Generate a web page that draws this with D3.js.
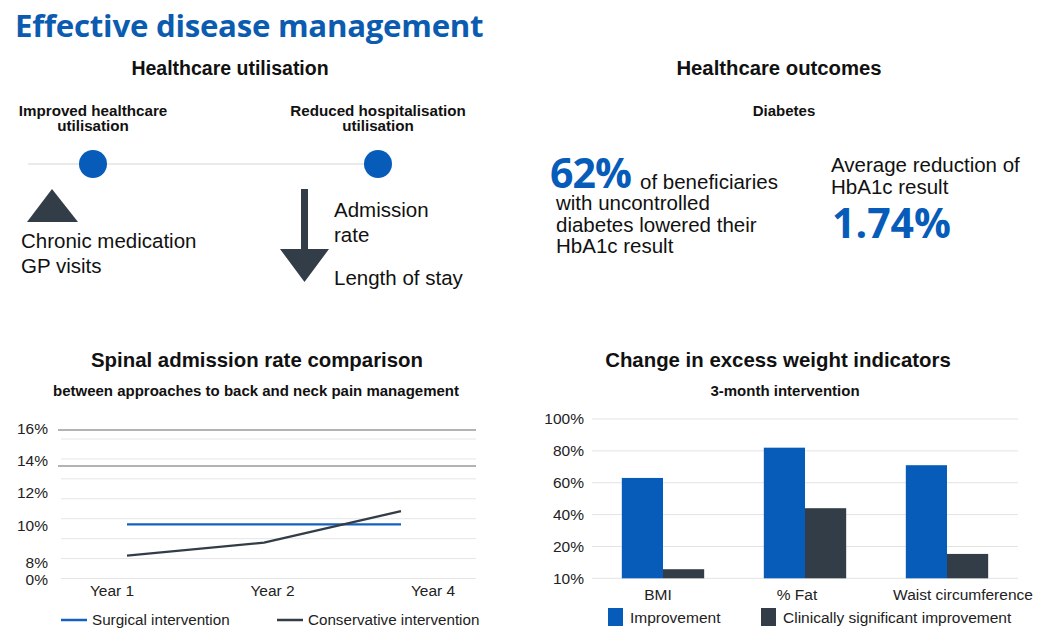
<!DOCTYPE html>
<html><head><meta charset="utf-8">
<script src="https://cdn.jsdelivr.net/npm/d3@7"></script>
<style>
html,body{margin:0;padding:0;background:#fff;}
svg{display:block;}
text{font-family:"Liberation Sans",Arial,sans-serif;fill:#111;}
</style></head>
<body>
<svg id="c" width="1052" height="643"></svg>
<script>
// ---------- data ----------
const years = ["Year 1", "Year 2", "Year 4"];
const surgical = [10.1, 10.1, 10.1];
const conservative = [8.4, 9.1, 10.9];
const lineTickValues = [0, 8, 10, 12, 14, 16];
const lineTickLabels = ["0%", "8%", "10%", "12%", "14%", "16%"];
const lineSeriesNames = ["Surgical intervention", "Conservative intervention"];

const weightCategories = ["BMI", "% Fat", "Waist circumference"];
const improvement = [63, 82, 71];
const clinical = [5.7, 44, 15.3];
const barTickValues = [0, 20, 40, 60, 80, 100];
const barTickLabels = ["10%", "20%", "40%", "60%", "80%", "100%"];
const barSeriesNames = ["Improvement", "Clinically significant improvement"];

const BLUE = "#075cb9", DARK = "#333d48", TITLEBLUE = "#0b5cb0";

const svg = d3.select("#c");

// ---------- headers ----------
svg.append("text").attr("x", 15).attr("y", 37)
  .style("font-family", "'Open Sans',sans-serif").style("font-weight", 700)
  .style("font-size", "31.2px").style("fill", TITLEBLUE).style("letter-spacing","-0.25px")
  .text("Effective disease management");

function title(x, y, t, size) {
  svg.append("text").attr("x", x).attr("y", y).attr("text-anchor", "middle")
    .style("font-weight", 700).style("font-size", size + "px").text(t);
}
title(230, 75, "Healthcare utilisation", 19.5);
title(779, 75, "Healthcare outcomes", 20.3);
title(784, 116, "Diabetes", 15);
title(257, 367, "Spinal admission rate comparison", 20.4);
title(256, 396, "between approaches to back and neck pain management", 15);
title(778, 367, "Change in excess weight indicators", 20.4);
title(785, 396, "3-month intervention", 15);

// ---------- healthcare utilisation ----------
title(93, 116, "Improved healthcare", 15.2);
title(93, 131, "utilisation", 15.2);
title(378, 116, "Reduced hospitalisation", 15.2);
title(378, 131, "utilisation", 15.2);

svg.append("line").attr("x1", 28).attr("x2", 365).attr("y1", 164).attr("y2", 164)
  .attr("stroke", "#e3e3e3").attr("stroke-width", 1.5);
[93, 378].forEach(cx => svg.append("circle").attr("cx", cx).attr("cy", 164).attr("r", 14).attr("fill", BLUE));

svg.append("path").attr("d", "M52,189 L78,222 L27,222 Z").attr("fill", DARK);
function para(x, y, lines, size, lh) {
  lines.forEach((l, i) => svg.append("text").attr("x", x).attr("y", y + i * lh)
    .style("font-size", size + "px").text(l));
}
para(21, 248, ["Chronic medication", "GP visits"], 20.5, 25);

svg.append("path").attr("d", "M301,189 L308,189 L308,249 L329,249 L304.5,282 L280,249 L301,249 Z").attr("fill", DARK);
para(334, 217, ["Admission", "rate"], 20.5, 25);
para(334, 285, ["Length of stay"], 20.5, 0);

// ---------- healthcare outcomes ----------
svg.append("text").attr("x", 550).attr("y", 188)
  .style("font-family", "'Open Sans',sans-serif").style("font-weight", 700)
  .style("font-size", "41px").style("fill", BLUE).style("letter-spacing","-1px").text("62%");
para(640, 189, ["of beneficiaries"], 20.5, 0);
para(556, 210, ["with uncontrolled", "diabetes lowered their", "HbA1c result"], 20.5, 21.5);
para(831, 172, ["Average reduction of", "HbA1c result"], 20.5, 21.5);
svg.append("text").attr("x", 832).attr("y", 238)
  .style("font-family", "'Open Sans',sans-serif").style("font-weight", 700)
  .style("font-size", "41px").style("fill", BLUE).style("letter-spacing","0px").text("1.74%");

// ---------- line chart ----------
const ly = d3.scaleLinear().domain(lineTickValues).range([580, 563, 526, 493, 461, 429]);
const lx = d3.scalePoint().domain(years).range([127, 401]);
const lxLabel = d3.scalePoint().domain(years).range([112, 433]);
const gridStep = d3.scaleLinear().domain([0, 7]).range([578.5, 439]);

const lg = svg.append("g");
d3.range(0, 8).forEach(i => {
  lg.append("line").attr("x1", 61).attr("x2", 476).attr("y1", gridStep(i)).attr("y2", gridStep(i))
    .attr("stroke", "#e6e6e6").attr("stroke-width", 1);
});
[430, 466].forEach(yy => {
  lg.append("line").attr("x1", 58).attr("x2", 476).attr("y1", yy).attr("y2", yy)
    .attr("stroke", "#9a9a9a").attr("stroke-width", 1.3);
});
lineTickValues.forEach((v, i) => {
  lg.append("text").attr("x", 48).attr("y", ly(v)).attr("dy", "0.35em").attr("text-anchor", "end")
    .style("font-size", "15.5px").style("fill", "#222").text(lineTickLabels[i]);
});
years.forEach(y => lg.append("text").attr("x", lxLabel(y)).attr("y", 596).attr("text-anchor", "middle")
  .style("font-size", "15.5px").style("fill", "#222").text(y));

const line = d3.line().x((d, i) => lx(years[i])).y(d => ly(d));
lg.append("path").datum(surgical).attr("d", line).attr("fill", "none").attr("stroke", "#1460c0").attr("stroke-width", 2.4);
lg.append("path").datum(conservative).attr("d", line).attr("fill", "none").attr("stroke", DARK).attr("stroke-width", 2.4);

// legend
[[61, "#1460c0", lineSeriesNames[0]], [277, DARK, lineSeriesNames[1]]].forEach(([x, c, t]) => {
  lg.append("line").attr("x1", x).attr("x2", x + 26).attr("y1", 620).attr("y2", 620).attr("stroke", c).attr("stroke-width", 2.5);
  lg.append("text").attr("x", x + 31).attr("y", 620).attr("dy", "0.35em").style("font-size", "15.2px").style("fill", "#222").text(t);
});

// ---------- bar chart ----------
const by = d3.scaleLinear().domain([0, 100]).range([578.3, 419]);
const bx = d3.scaleBand().domain(weightCategories).range([592, 1018]).paddingInner(0.42).paddingOuter(0.21);
const bs = d3.scaleBand().domain(barSeriesNames).range([0, bx.bandwidth()]);
const bxLabel = d3.scalePoint().domain(weightCategories).range([658, 963]);
const bg = svg.append("g");
barTickValues.forEach((v, i) => {
  bg.append("line").attr("x1", 592).attr("x2", 1018).attr("y1", by(v)).attr("y2", by(v))
    .attr("stroke", "#e3e3e3").attr("stroke-width", 1);
  bg.append("text").attr("x", 584).attr("y", by(v)).attr("dy", "0.35em").attr("text-anchor", "end")
    .style("font-size", "15.5px").style("fill", "#222").text(barTickLabels[i]);
});
const series = [improvement, clinical];
const colors = [BLUE, DARK];
series.forEach((vals, si) => {
  bg.selectAll(null).data(vals).enter().append("rect")
    .attr("x", (d, i) => bx(weightCategories[i]) + bs(barSeriesNames[si]))
    .attr("width", bs.bandwidth())
    .attr("y", d => by(d)).attr("height", d => by(0) - by(d))
    .attr("fill", colors[si]);
});
weightCategories.forEach((c, i) => bg.append("text")
  .attr("x", i === 1 ? bx(c) + bx.bandwidth() / 2 - 8 : bxLabel(c)).attr("y", 600)
  .attr("text-anchor", "middle").style("font-size", "15.5px").style("fill", "#222").text(c));
[[608, BLUE, barSeriesNames[0]], [761, DARK, barSeriesNames[1]]].forEach(([x, c, t]) => {
  bg.append("rect").attr("x", x).attr("y", 608).attr("width", 15).attr("height", 18).attr("fill", c);
  bg.append("text").attr("x", x + 22).attr("y", 618).attr("dy", "0.35em").style("font-size", "15.5px").style("fill", "#222").text(t);
});
</script>
</body></html>
